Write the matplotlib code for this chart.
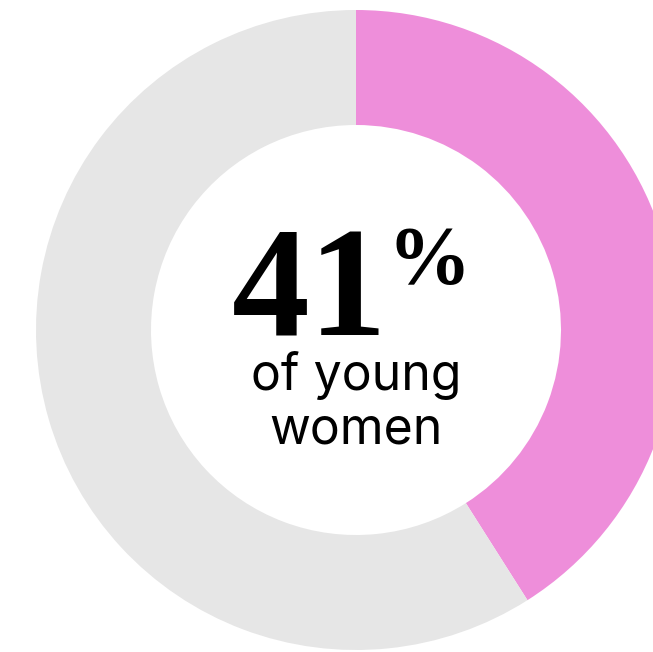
import matplotlib.pyplot as plt

labels = ['young women', 'others']
values = [41, 59]
colors = ['#EE8EDA', '#E6E6E6']
big_number = '41'
sub_lines = ['of young', 'women']

fig = plt.figure(figsize=(6.53, 6.52), dpi=100)
ax = fig.add_axes([0, 0, 1, 1])
ax.axis('off')

ax.pie(values, colors=colors, startangle=90, counterclock=False,
       radius=320, center=(356, 322),
       wedgeprops=dict(width=115, linewidth=0))
ax.set_xlim(0, 653)
ax.set_ylim(0, 652)
ax.set_aspect('equal')

serif = dict(family='Liberation Serif', fontweight='bold', color='black')
ax.text(387, 317, big_number, ha='right', va='baseline', fontsize=112, **serif)
ax.text(387, 369, '%', ha='left', va='baseline', fontsize=60, **serif)

ax.text(356, 262, sub_lines[0], ha='center', va='baseline', fontsize=36,
        family='Inter', color='black')
ax.text(356, 209, sub_lines[1], ha='center', va='baseline', fontsize=36,
        family='Inter', color='black')

fig.savefig('out.png', dpi=100)
